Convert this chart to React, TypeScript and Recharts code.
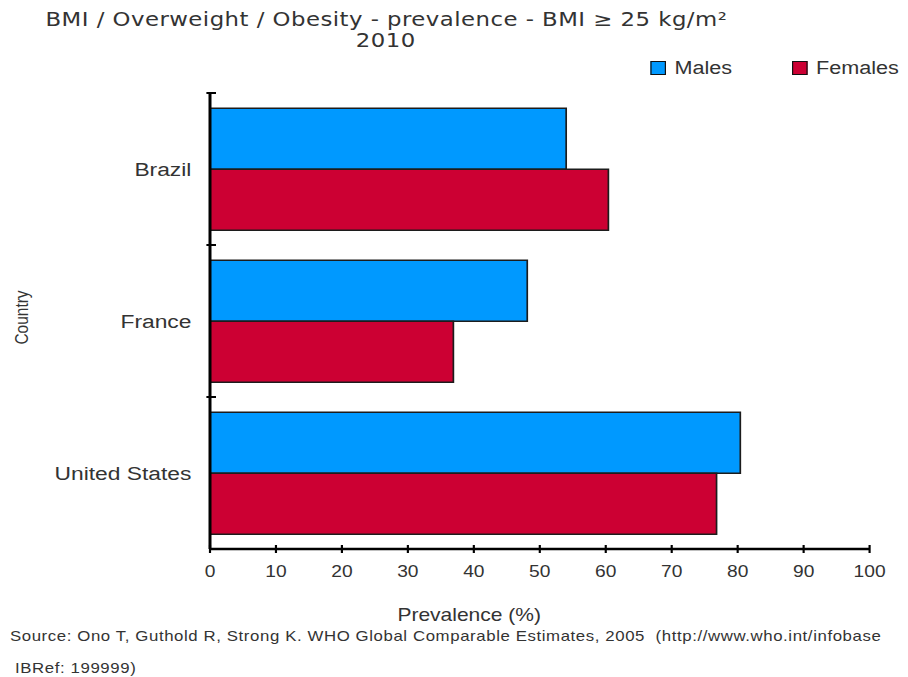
import { BarChart, Bar, XAxis, YAxis, Legend } from 'recharts';

// Prevalence of BMI >= 25 kg/m², 2010 (%)
const countries = ['Brazil', 'France', 'United States'];
const males = [54.0, 48.1, 80.4];
const females = [60.4, 36.9, 76.8];
const prevalenceTicks = [0, 10, 20, 30, 40, 50, 60, 70, 80, 90, 100];
const seriesNames = ['Males', 'Females'];

const data = countries.map((country, i) => ({
  country,
  males: males[i],
  females: females[i],
}));

// whole drawing is laid out narrow, then widened horizontally
const STRETCH = 1.2;
const FULL_W = 908;
const FULL_H = 677;
const W = FULL_W / STRETCH;

const MARGIN = { top: 93, right: 32, bottom: 88, left: 25 };
const Y_AXIS_W = 150;
const X_AXIS_H = 40;
const BAND = (FULL_H - MARGIN.top - MARGIN.bottom - X_AXIS_H) / countries.length;

const TEXT = '#333';
const SANS = '"Liberation Sans", Arial, sans-serif';

function CountryTick(props: any) {
  const { x, y, payload } = props;
  const half = payload && typeof payload.offset === 'number' && payload.offset > 0 ? payload.offset : BAND / 2;
  return (
    <g>
      <line x1={x - 3} x2={x + 5} y1={y - half} y2={y - half} stroke="#000" strokeWidth={2} />
      <text
        x={x - 15.5}
        y={y}
        dy="0.36em"
        textAnchor="end"
        fontFamily={SANS}
        fontSize={19}
        fill={TEXT}
      >
        {payload.value}
      </text>
    </g>
  );
}

function PrevalenceTick(props: any) {
  const { x, y, payload } = props;
  return (
    <g>
      <line x1={x} x2={x} y1={y - 4} y2={y + 4} stroke="#000" strokeWidth={1.8} />
      <text x={x} y={y + 28.5} textAnchor="middle" fontFamily={SANS} fontSize={16} fill={TEXT}>
        {payload.value}
      </text>
    </g>
  );
}

function LegendContent(props: any) {
  const items = [...(props.payload || [])].sort(
    (a: any, b: any) => seriesNames.indexOf(a.value) - seriesNames.indexOf(b.value)
  );
  return (
    <div style={{ display: 'flex', alignItems: 'center', fontFamily: SANS, fontSize: 18, color: TEXT, lineHeight: '20px' }}>
      {items.map((entry: any) => (
        <div key={entry.value} style={{ display: 'flex', alignItems: 'center', width: 118 }}>
          <span
            style={{
              display: 'inline-block',
              width: 11,
              height: 12,
              background: entry.color,
              border: '1.2px solid #111',
              marginRight: 7,
            }}
          />
          <span>{entry.value}</span>
        </div>
      ))}
    </div>
  );
}

export default function App() {
  return (
    <div
      style={{
        position: 'absolute',
        left: 0,
        top: 0,
        width: FULL_W,
        height: FULL_H,
        overflow: 'hidden',
        background: '#fff',
      }}
    >
      <div
        style={{
          position: 'relative',
          width: W,
          height: FULL_H,
          transform: `scaleX(${STRETCH})`,
          transformOrigin: '0 0',
        }}
      >
        <BarChart
          width={W}
          height={FULL_H}
          data={data}
          layout="vertical"
          margin={MARGIN}
          barCategoryGap="10%"
          barGap={0}
        >
          <XAxis
            type="number"
            domain={[0, 100]}
            ticks={prevalenceTicks}
            interval={0}
            height={X_AXIS_H}
            tickSize={0}
            tickMargin={0}
            tickLine={false}
            axisLine={{ stroke: '#000', strokeWidth: 2.5 }}
            tick={<PrevalenceTick />}
          />
          <YAxis
            type="category"
            dataKey="country"
            width={Y_AXIS_W}
            interval={0}
            tickSize={0}
            tickMargin={0}
            tickLine={false}
            axisLine={{ stroke: '#000', strokeWidth: 2.5 }}
            tick={<CountryTick />}
          />
          <Legend
            layout="horizontal"
            verticalAlign="middle"
            align="center"
            content={<LegendContent />}
            wrapperStyle={{ top: 58, left: 542, width: 'auto', height: 20 }}
          />
          <Bar
            dataKey="males"
            name="Males"
            fill="#0099FF"
            stroke="#1c1c1c"
            strokeWidth={1.4}
            isAnimationActive={false}
          />
          <Bar
            dataKey="females"
            name="Females"
            fill="#CC0033"
            stroke="#1c1c1c"
            strokeWidth={1.4}
            isAnimationActive={false}
          />
        </BarChart>

        <svg
          width={W}
          height={FULL_H}
          style={{ position: 'absolute', left: 0, top: 0, pointerEvents: 'none' }}
        >
          <g fontFamily='"DejaVu Sans", Verdana, sans-serif' fontSize={19} fill={TEXT} textAnchor="middle">
            <text x={322} y={26} letterSpacing={0.4}>
              BMI / Overweight / Obesity - prevalence - BMI ≥ 25 kg/m²
            </text>
            <text x={321.5} y={47} letterSpacing={0.4}>
              2010
            </text>
          </g>
          <text
            x={17.5}
            y={317.5}
            transform="rotate(-90 17.5 317.5)"
            dy="0.36em"
            textAnchor="middle"
            fontFamily={SANS}
            fontSize={15.5}
            fill={TEXT}
          >
            Country
          </text>
          <text x={391} y={621.5} textAnchor="middle" fontFamily={SANS} fontSize={17.5} fill={TEXT}>
            Prevalence (%)
          </text>
          <g fontFamily={SANS} fontSize={14} fill={TEXT} letterSpacing={0.5}>
            <text x={8.3} y={641.5} xmlSpace="preserve">
              Source: Ono T, Guthold R, Strong K. WHO Global Comparable Estimates, 2005  (http://www.who.int/infobase
            </text>
            <text x={12.5} y={673}>
              IBRef: 199999)
            </text>
          </g>
        </svg>
      </div>
    </div>
  );
}
